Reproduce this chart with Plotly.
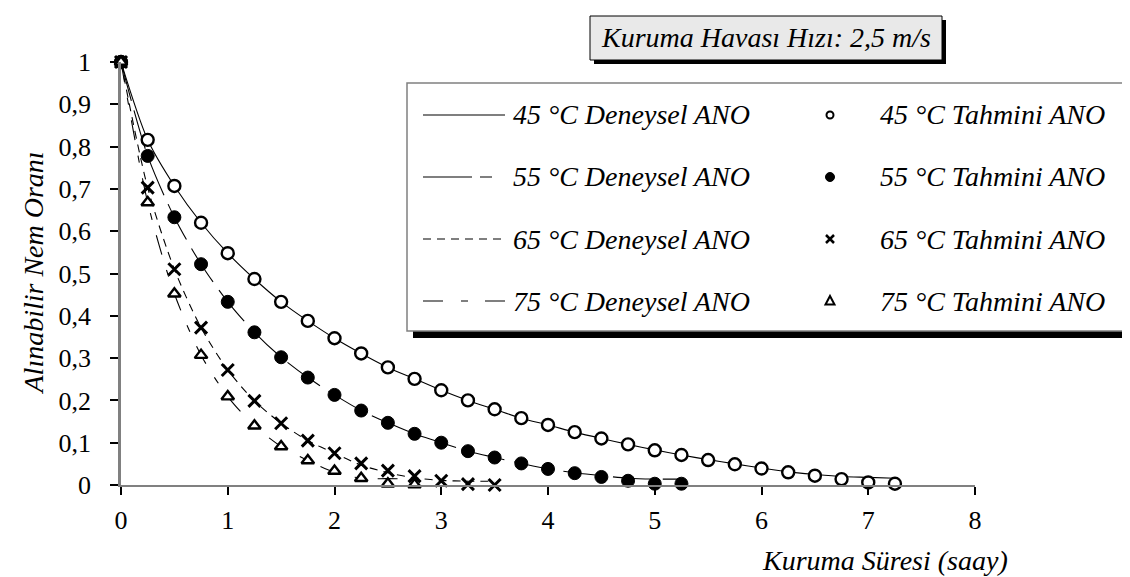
import plotly.graph_objects as go

# ---------------- data ----------------
t45 = [0, 0.25, 0.5, 0.75, 1.0, 1.25, 1.5, 1.75, 2.0, 2.25, 2.5, 2.75, 3.0, 3.25, 3.5,
       3.75, 4.0, 4.25, 4.5, 4.75, 5.0, 5.25, 5.5, 5.75, 6.0, 6.25, 6.5, 6.75, 7.0, 7.25]
t55 = [0, 0.25, 0.5, 0.75, 1.0, 1.25, 1.5, 1.75, 2.0, 2.25, 2.5, 2.75, 3.0, 3.25, 3.5,
       3.75, 4.0, 4.25, 4.5, 4.75, 5.0, 5.25]
t65 = [0, 0.25, 0.5, 0.75, 1.0, 1.25, 1.5, 1.75, 2.0, 2.25, 2.5, 2.75, 3.0, 3.25, 3.5]
t75 = [0, 0.25, 0.5, 0.75, 1.0, 1.25, 1.5, 1.75, 2.0, 2.25, 2.5, 2.75]

exp45 = [1.0, 0.816, 0.707, 0.620, 0.548, 0.487, 0.433, 0.388, 0.347, 0.311, 0.278, 0.251,
         0.224, 0.200, 0.179, 0.158, 0.142, 0.125, 0.110, 0.096, 0.083, 0.071, 0.060, 0.050,
         0.040, 0.031, 0.025, 0.020, 0.018, 0.016]
pred45 = [1.0, 0.816, 0.707, 0.620, 0.548, 0.487, 0.433, 0.388, 0.347, 0.311, 0.278, 0.251,
          0.224, 0.200, 0.179, 0.158, 0.142, 0.125, 0.110, 0.096, 0.082, 0.071, 0.059, 0.049,
          0.039, 0.030, 0.022, 0.014, 0.006, 0.003]

exp55 = [1.0, 0.778, 0.633, 0.522, 0.433, 0.361, 0.302, 0.254, 0.213, 0.176, 0.147, 0.121,
         0.100, 0.080, 0.065, 0.051, 0.038, 0.029, 0.022, 0.016, 0.014, 0.014]
pred55 = [1.0, 0.778, 0.633, 0.522, 0.433, 0.361, 0.302, 0.254, 0.213, 0.176, 0.147, 0.121,
          0.100, 0.080, 0.065, 0.051, 0.038, 0.028, 0.019, 0.010, 0.003, 0.003]

exp65 = [1.0, 0.703, 0.510, 0.372, 0.272, 0.199, 0.146, 0.105, 0.075, 0.047, 0.029, 0.017,
         0.011, 0.009, 0.009]
pred65 = [1.0, 0.703, 0.510, 0.372, 0.272, 0.199, 0.146, 0.105, 0.075, 0.051, 0.034, 0.021,
          0.010, 0.002, 0.000]

exp75 = [1.0, 0.668, 0.452, 0.307, 0.209, 0.140, 0.091, 0.058, 0.030, 0.016, 0.015, 0.014]
pred75 = [1.0, 0.668, 0.452, 0.307, 0.209, 0.140, 0.091, 0.058, 0.033, 0.016, 0.003, 0.001]

x_ticks = [0, 1, 2, 3, 4, 5, 6, 7, 8]
x_labels = ["0", "1", "2", "3", "4", "5", "6", "7", "8"]
y_ticks = [0, 0.1, 0.2, 0.3, 0.4, 0.5, 0.6, 0.7, 0.8, 0.9, 1.0]
y_labels = ["0", "0,1", "0,2", "0,3", "0,4", "0,5", "0,6", "0,7", "0,8", "0,9", "1"]

exp_names = ["45 °C Deneysel ANO", "55 °C Deneysel ANO", "65 °C Deneysel ANO", "75 °C Deneysel ANO"]
pred_names = ["45 °C Tahmini ANO", "55 °C Tahmini ANO", "65 °C Tahmini ANO", "75 °C Tahmini ANO"]
title_text = "Kuruma Havası Hızı: 2,5 m/s"
x_title = "Kuruma Süresi (saay)"
y_title = "Alınabilir Nem Oranı"

# ---------------- layout geometry ----------------
W, H = 1130, 577
L, R, T, B = 113, 967, 54, 477
FONT = "'Liberation Serif', 'Times New Roman', Tinos, 'DejaVu Serif', serif"


def px_x(p):
    return (p - L) / (R - L)


def px_y(p):
    return (B - p) / (B - T)


line_dashes = ["solid", "40px,10px", "8px,6px", "20px,16px,7px,16px"]
legend_dashes = ["solid", "49px,8px,12px,100px", "8px,6px", "20px,18px,7px,17px"]
marker_styles = [
    dict(symbol="circle", size=12, color="white", line=dict(color="black", width=2.4)),
    dict(symbol="circle", size=13, color="black", line=dict(color="black", width=1)),
    dict(symbol="x-thin", size=12, color="black", line=dict(color="black", width=3)),
    dict(symbol="triangle-up", size=11, color="white", line=dict(color="black", width=2.4)),
]

fig = go.Figure()
series = [(t45, exp45, pred45), (t55, exp55, pred55), (t65, exp65, pred65), (t75, exp75, pred75)]
for i, (t, e, p) in enumerate(series):
    fig.add_trace(go.Scatter(x=t, y=e, mode="lines", name=exp_names[i],
                             line=dict(color="black", width=1.1, dash=line_dashes[i],
                                       shape="spline", smoothing=0.8),
                             showlegend=False, hoverinfo="skip"))
for i, (t, e, p) in enumerate(series):
    fig.add_trace(go.Scatter(x=t, y=p, mode="markers", name=pred_names[i],
                             marker=marker_styles[i], cliponaxis=False, showlegend=False))

shapes = []
annotations = []
ital = dict(family=FONT, size=28, color="black", style="italic")

# title box with shadow
shapes.append(dict(type="rect", xref="paper", yref="paper", layer="above",
                   x0=px_x(586), x1=px_x(938), y0=px_y(56), y1=px_y(12),
                   fillcolor="black", line=dict(width=0)))
shapes.append(dict(type="rect", xref="paper", yref="paper", layer="above",
                   x0=px_x(582), x1=px_x(934), y0=px_y(52), y1=px_y(8),
                   fillcolor="#e9e9e9", line=dict(color="black", width=1)))
annotations.append(dict(xref="paper", yref="paper", x=px_x(758), y=px_y(30),
                        text=title_text, showarrow=False, xanchor="center", yanchor="middle",
                        font=ital))

# legend box with shadow
shapes.append(dict(type="rect", xref="paper", yref="paper", layer="above",
                   x0=px_x(405), x1=px_x(1160), y0=px_y(330), y1=px_y(81),
                   fillcolor="black", line=dict(width=0)))
shapes.append(dict(type="rect", xref="paper", yref="paper", layer="above",
                   x0=px_x(399), x1=px_x(1155), y0=px_y(323), y1=px_y(75),
                   fillcolor="white", line=dict(color="#808080", width=1.5)))

rows = [107, 169, 231, 293]
mx = 822
for i, ry in enumerate(rows):
    shapes.append(dict(type="line", xref="paper", yref="paper", layer="above",
                       x0=px_x(415), x1=px_x(497), y0=px_y(ry), y1=px_y(ry),
                       line=dict(color="black", width=1.1, dash=legend_dashes[i])))
    annotations.append(dict(xref="paper", yref="paper", x=px_x(503), y=px_y(ry),
                            text=exp_names[i], showarrow=False, xanchor="left", yanchor="middle",
                            font=ital))
    annotations.append(dict(xref="paper", yref="paper", x=px_x(870), y=px_y(ry),
                            text=pred_names[i], showarrow=False, xanchor="left", yanchor="middle",
                            font=ital))

# legend marker samples
shapes.append(dict(type="circle", xref="paper", yref="paper", layer="above",
                   x0=px_x(mx - 3.5), x1=px_x(mx + 3.5), y0=px_y(rows[0] + 3.5), y1=px_y(rows[0] - 3.5),
                   fillcolor="white", line=dict(color="black", width=2)))
shapes.append(dict(type="circle", xref="paper", yref="paper", layer="above",
                   x0=px_x(mx - 4.5), x1=px_x(mx + 4.5), y0=px_y(rows[1] + 4.5), y1=px_y(rows[1] - 4.5),
                   fillcolor="black", line=dict(color="black", width=1)))
ry = rows[2]
shapes.append(dict(type="path", xref="paper", yref="paper", layer="above",
                   path=f"M {px_x(mx-4)} {px_y(ry-4)} L {px_x(mx+4)} {px_y(ry+4)} "
                        f"M {px_x(mx-4)} {px_y(ry+4)} L {px_x(mx+4)} {px_y(ry-4)}",
                   line=dict(color="black", width=2.5)))
ry = rows[3]
shapes.append(dict(type="path", xref="paper", yref="paper", layer="above",
                   path=f"M {px_x(mx)} {px_y(ry-5)} L {px_x(mx+4.5)} {px_y(ry+3.5)} "
                        f"L {px_x(mx-4.5)} {px_y(ry+3.5)} Z",
                   fillcolor="white", line=dict(color="black", width=2)))

# axis titles
annotations.append(dict(xref="paper", yref="paper", x=px_x(25), y=0.5, text=y_title,
                        showarrow=False, textangle=-90, xanchor="center", yanchor="middle",
                        font=ital))
annotations.append(dict(xref="paper", yref="paper", x=px_x(877), y=px_y(552), text=x_title,
                        showarrow=False, xanchor="center", yanchor="middle",
                        font=ital))

fig.update_layout(
    width=W, height=H,
    margin=dict(l=L, r=W - R, t=T, b=H - B, pad=0),
    paper_bgcolor="white", plot_bgcolor="white",
    showlegend=False,
    separators=",.",
    font=dict(family=FONT, color="black"),
    shapes=shapes, annotations=annotations,
    xaxis=dict(range=[0, 8], tickmode="array", tickvals=x_ticks, ticktext=x_labels,
               ticks="outside", ticklen=8, tickwidth=1.5, tickcolor="black",
               showline=True, linecolor="#808080", linewidth=2,
               showgrid=False, zeroline=False, ticklabelstandoff=3,
               tickfont=dict(family=FONT, size=26, color="black")),
    yaxis=dict(range=[0, 1], tickmode="array", tickvals=y_ticks, ticktext=y_labels,
               ticks="outside", ticklen=8, tickwidth=1.5, tickcolor="black",
               showline=True, linecolor="#808080", linewidth=2.5,
               showgrid=False, zeroline=False, ticklabelstandoff=14,
               tickfont=dict(family=FONT, size=26, color="black")),
)

fig.write_html("out.html")
